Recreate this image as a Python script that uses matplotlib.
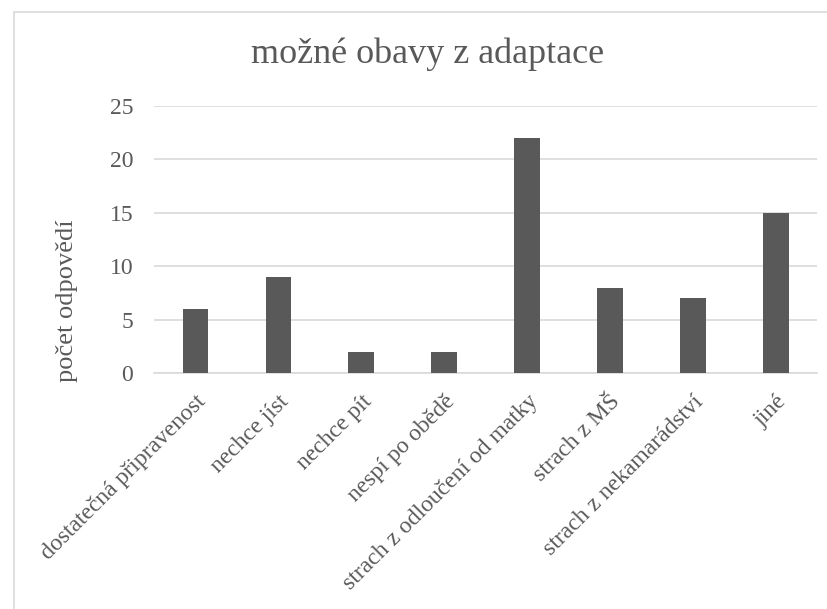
import matplotlib
matplotlib.use("Agg")
import matplotlib.pyplot as plt
from matplotlib.patches import Rectangle

categories = ["dostatečná připravenost", "nechce jíst", "nechce pít", "nespí po obědě",
              "strach z odloučení od matky", "strach z MŠ", "strach z nekamarádství", "jiné"]
counts = [6, 9, 2, 2, 22, 8, 7, 15]
yticks = [0, 5, 10, 15, 20, 25]

TXT = "#595959"
plt.rcParams["font.family"] = ["Liberation Serif", "DejaVu Serif"]

fig = plt.figure(figsize=(8.28, 6.09), dpi=100)
ax = fig.add_axes([0.186, 0.3875, 0.801, 0.4385])

x = range(len(categories))
ax.bar(x, counts, width=0.31, color="#595959", zorder=3)
ax.set_xlim(-0.5, len(categories) - 0.5)
ax.set_ylim(0, 25)
ax.set_yticks(yticks)
ax.yaxis.grid(True, color="#d9d9d9", linewidth=1.2, zorder=0)
ax.set_xticks(list(x))
ax.set_xticklabels(categories, rotation=45, ha="right", rotation_mode="anchor")
ax.tick_params(axis="both", length=0, colors=TXT, labelsize=17)
ax.tick_params(axis="x", pad=13)
ax.tick_params(axis="y", pad=15)
for s in ["top", "right", "left"]:
    ax.spines[s].set_visible(False)
ax.spines["bottom"].set_color("#d9d9d9")
ax.spines["bottom"].set_linewidth(1.2)

ax.set_ylabel("počet odpovědí", fontsize=19, color=TXT)
ax.yaxis.set_label_coords(-0.115, 0.27)
fig.text(0.516, 0.911, "možné obavy z adaptace", ha="center", va="center",
         fontsize=26, color=TXT)

# chart border like the spreadsheet frame
fig.patches.append(Rectangle((14 / 828, -0.01), 1.0, 1 - 12 / 609 + 0.01,
                             transform=fig.transFigure, fill=False,
                             edgecolor="#d9d9d9", linewidth=1.2))

fig.savefig("out.png", dpi=100)
